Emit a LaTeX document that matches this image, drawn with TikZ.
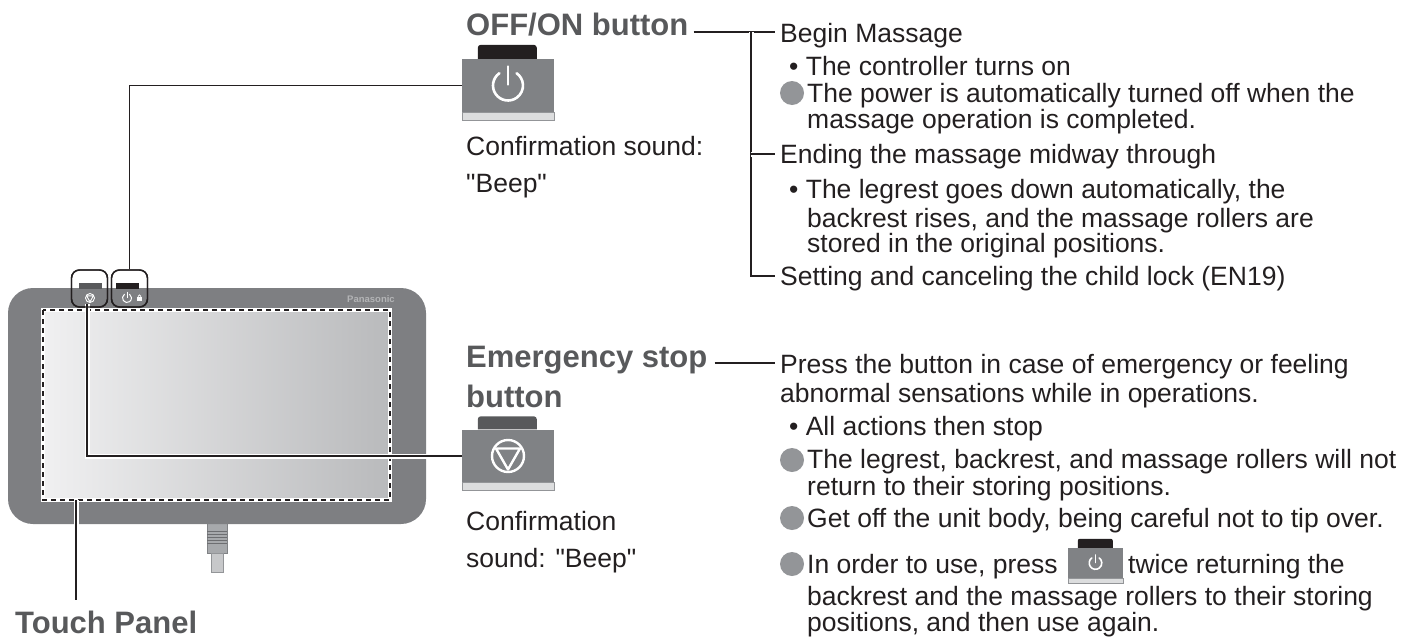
\documentclass[tikz,border=0pt]{standalone}
\usepackage{fontspec}
\setmainfont{Liberation Sans}[Ligatures=TeXOff]
\usetikzlibrary{calc}

\definecolor{txt}{HTML}{231F20}
\definecolor{ttlgrey}{HTML}{58595B}
\definecolor{bodygrey}{HTML}{808285}
\definecolor{dotgrey}{HTML}{939598}
\definecolor{stripgrey}{HTML}{DCDDDE}
\definecolor{tabdark}{HTML}{58595B}
\definecolor{tabblack}{HTML}{231F20}
\definecolor{casegrey}{HTML}{7E7F82}
\definecolor{screenlight}{HTML}{F0F0F1}
\definecolor{screenmid}{HTML}{C9CACC}
\definecolor{screendark}{HTML}{B9BABC}
\definecolor{logogrey}{HTML}{B3B4B6}
\definecolor{plugmid}{HTML}{A7A9AC}
\definecolor{plugstripe}{HTML}{6D6E71}
\definecolor{pluglight}{HTML}{C7C8CA}

\tikzset{
  bodytext/.style={anchor=base west, inner sep=0pt, font=\fontsize{26.5}{30}\selectfont, text=txt},
  titletext/.style={anchor=base west, inner sep=0pt, font=\fontsize{31}{36}\selectfont\bfseries, text=ttlgrey},
  leader/.style={draw=txt, line width=1.6pt, preaction={draw=white, line width=5pt}},
  dot/.style={circle, fill=dotgrey, inner sep=0pt, minimum size=24pt},
  btnbody/.style={fill=bodygrey, inner sep=0pt, minimum width=92pt, minimum height=53pt},
  stripbar/.style={fill=stripgrey, draw=dotgrey, line width=0.6pt},
  markbox/.style={draw=txt, line width=1.4pt, rounded corners=8pt, inner sep=0pt, minimum width=36pt, minimum height=37pt},
  pics/powericon/.style={code={
    \draw[white, line width=#1, line cap=round] (125:15pt) arc[start angle=125, end angle=415, radius=15pt];
    \draw[white, line width=#1, line cap=round] (0pt,1pt) -- (0pt,19pt);}},
  pics/stopicon/.style={code={
    \draw[white, line width=#1] (0pt,0pt) circle[radius=16pt];
    \draw[white, line width=#1, line join=round] (-12pt,7.5pt) -- (12pt,7.5pt) -- (0pt,-13.5pt) -- cycle;}},
}

\begin{document}
\begin{tikzpicture}[x=1pt,y=-1pt]
\path[use as bounding box] (0,0) rectangle (1406,643);

% ---- controller unit ----
\filldraw[fill=plugmid, draw=bodygrey, line width=0.6pt] (207,522) rectangle (227,553);
\foreach \yy in {531,534,537,540,543}
  \draw[plugstripe, line width=1pt] (207,\yy) -- (227,\yy);
\filldraw[fill=pluglight, draw=dotgrey, line width=0.6pt] (211,553) rectangle (223,572);

\fill[casegrey, rounded corners=25pt] (8,288) rectangle (426,524);
\shade[left color=screenlight, middle color=screenmid, right color=screendark] (44,311) rectangle (389,499);
\draw[white, line width=3.5pt] (43,310) rectangle (390,500);
\draw[txt, line width=1.6pt, dash pattern=on 5pt off 4pt] (43,310) rectangle (390,500);

% physical keys on the top edge
\fill[tabdark] (79,283) rectangle (102,289);
\fill[tabblack] (116,283) rectangle (139,289);
\pic[scale=0.28] at (90,298) {stopicon=0.9pt};
\pic[scale=0.3] at (127,298) {powericon=1pt};
\fill[white] (137.2,297.3) rectangle (141.8,301.3);
\draw[white, line width=0.7pt] (138.3,297.5) -- (138.3,296) arc[start angle=180, end angle=0, radius=1.2pt] -- (140.7,297.5);
\node[font=\fontsize{9.5}{10}\selectfont\bfseries, text=logogrey] (logo) at (371,299) {Panasonic};

% ---- enlarged buttons ----
\node[btnbody] (powbtn) at (508,85.5) {};
\fill[tabblack] ($(powbtn.north west)+(16,0)$) [rounded corners=3pt] -- ++(0,-14) -- ++(59,0) [sharp corners] -- ++(0,14) -- cycle;
\filldraw[stripbar] (powbtn.south west) rectangle ($(powbtn.south east)+(0,8)$);
\pic at (powbtn) {powericon=2.6pt};

\node[btnbody] (stopbtn) at (508,456) {};
\fill[tabdark] ($(stopbtn.north west)+(16,0)$) [rounded corners=3pt] -- ++(0,-13) -- ++(59,0) [sharp corners] -- ++(0,13) -- cycle;
\filldraw[stripbar] (stopbtn.south west) rectangle ($(stopbtn.south east)+(0,8)$);
\pic at (stopbtn) {stopicon=2.4pt};

% ---- leaders from the unit ----
\node[markbox] (stopmark) at (89.5,288.5) {};
\node[markbox] (powmark) at (129.5,288.5) {};
\coordinate (stoptap) at (87,304);
\coordinate (tptap) at (76,500);
\draw[leader] (stoptap) |- (stopbtn.west);
\draw[leader] (powmark.north) |- (powbtn.west);
\node[markbox] at (stopmark) {};
\node[markbox] at (powmark) {};

% ---- titles ----
\node[titletext] (offtitle) at (466,35) {OFF/ON button};
\node[titletext] (emtitle1) at (466,367) {Emergency stop};
\node[titletext] (emtitle2) at (466,407) {button};
\node[titletext] (tptitle) at (15,633) {Touch Panel};
\draw[leader] (tptap) -- ($(tptitle.north -| tptap)+(0,-10)$);

\node[bodytext] (offconf1) at (466,155) {Confirmation sound:};
\node[bodytext] (offconf2) at (466,192) {"Beep"};
\node[bodytext] (emconf1) at (466,530) {Confirmation};
\node[bodytext] (emconf2) at (466,567) {sound: "Beep"};

% ---- OFF/ON functions ----
\node[bodytext] (begin) at (780,42) {Begin Massage};
\node[bodytext] (turnon) at (789,75) {• The controller turns on};
\node[dot] (d1) at (792,93) {};
\node[bodytext] (poweroff1) at (807,102) {The power is automatically turned off when the};
\node[bodytext] (poweroff2) at (807,128) {massage operation is completed.};
\node[bodytext] (ending) at (780,163) {Ending the massage midway through};
\node[bodytext] (legrest1) at (789,198) {• The legrest goes down automatically, the};
\node[bodytext] (legrest2) at (807,227) {backrest rises, and the massage rollers are};
\node[bodytext] (legrest3) at (807,252) {stored in the original positions.};
\node[bodytext] (setting) at (780,285) {Setting and canceling the child lock (EN19)};

\coordinate (brk) at ($(begin.base west)+(-29,-10)$);
\draw[leader] ([xshift=5pt]offtitle.east |- brk) -- ($(begin.base west)+(-5,-10)$);
\draw[leader] (brk) |- ($(setting.base west)+(-5,-9)$);
\draw[leader] (brk |- ending.base west) ++(0,-9) -- ($(ending.base west)+(-5,-9)$);

% ---- emergency stop functions ----
\node[bodytext] (press1) at (780,373) {Press the button in case of emergency or feeling};
\node[bodytext] (press2) at (780,402) {abnormal sensations while in operations.};
\node[bodytext] (allstop) at (789,435) {• All actions then stop};
\node[dot] (d2) at (792,460) {};
\node[bodytext] (noreturn1) at (807,468) {The legrest, backrest, and massage rollers will not};
\node[bodytext] (noreturn2) at (807,495) {return to their storing positions.};
\node[dot] (d3) at (792,518) {};
\node[bodytext] (getoff) at (807,527) {Get off the unit body, being careful not to tip over.};
\node[dot] (d4) at (792,564) {};
\node[bodytext] (inorder) at (807,573) {In order to use, press};
\node[btnbody, minimum width=55pt, minimum height=30pt] (minibtn) at (1095.5,563) {};
\fill[tabblack] ($(minibtn.north west)+(10,0)$) [rounded corners=2pt] -- ++(0,-9) -- ++(35,0) [sharp corners] -- ++(0,9) -- cycle;
\filldraw[stripbar] (minibtn.south west) rectangle ($(minibtn.south east)+(0,5)$);
\pic[scale=0.42] at (minibtn) {powericon=1.6pt};
\node[bodytext] (twice) at (1128,573) {twice returning the};
\node[bodytext] (restore1) at (807,605) {backrest and the massage rollers to their storing};
\node[bodytext] (restore2) at (807,631) {positions, and then use again.};

\coordinate (eline) at ($(press1.base west)+(-5,-10)$);
\draw[leader] ([xshift=7pt]emtitle1.east |- eline) -- (eline);
\end{tikzpicture}
\end{document}
